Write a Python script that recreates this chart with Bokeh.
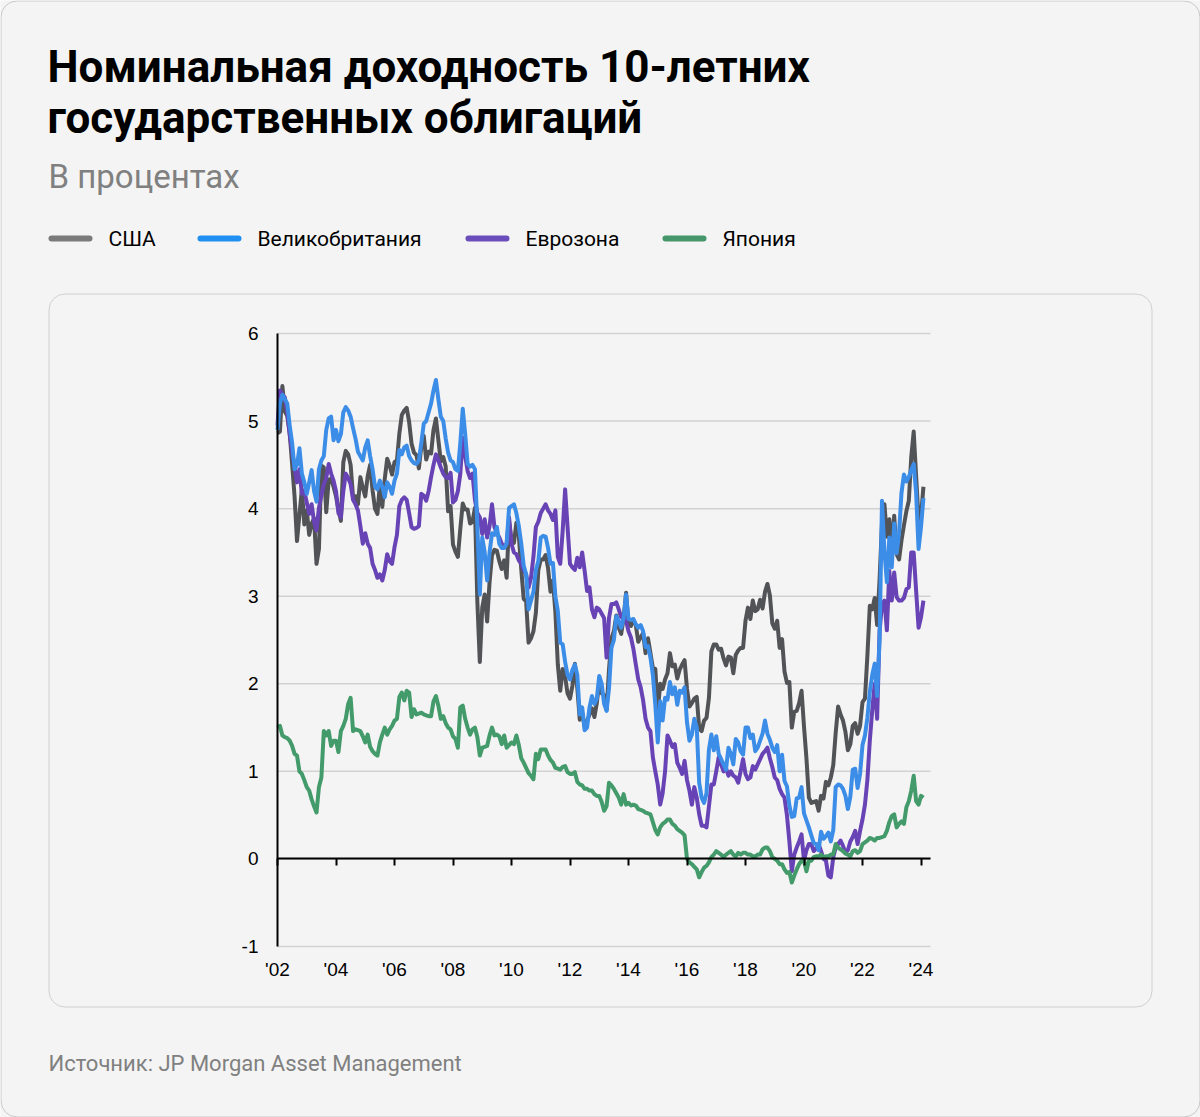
import numpy as np
from bokeh.plotting import figure
from bokeh.models import (Range1d, LinearAxis, FixedTicker, Label,
                          BoxAnnotation, ColumnDataSource)
from bokeh.embed import file_html
from bokeh.resources import INLINE

# ---------------- texts ----------------
TITLE_LINES = ["Номинальная доходность 10-летних", "государственных облигаций"]
SUBTITLE = "В процентах"
SOURCE_TEXT = "Источник: JP Morgan Asset Management"
SERIES = ["США", "Великобритания", "Еврозона", "Япония"]

# ---------------- axes ----------------
START_YEAR = 2002          # monthly values, Jan 2002 .. Feb 2024
X_TICKS = [2002, 2004, 2006, 2008, 2010, 2012, 2014, 2016, 2018, 2020, 2022, 2024]
X_TICK_LABELS = ["'02", "'04", "'06", "'08", "'10", "'12", "'14", "'16", "'18", "'20", "'22", "'24"]
Y_TICKS = [-1, 0, 1, 2, 3, 4, 5, 6]
Y_TICK_LABELS = ["-1", "0", "1", "2", "3", "4", "5", "6"]

# ---------------- data (10y yields, %) ----------------
US = [
    4.86, 4.88, 5.40, 5.11, 5.06, 4.86, 4.51, 4.14, 3.63, 3.93, 4.22, 3.82,  # 2002
    3.98, 3.70, 3.83, 3.89, 3.37, 3.54, 4.49, 4.47, 3.96, 4.33, 4.34, 4.25,  # 2003
    4.14, 3.99, 3.86, 4.53, 4.66, 4.62, 4.50, 4.13, 4.14, 4.05, 4.36, 4.24,  # 2004
    4.14, 4.37, 4.50, 4.21, 4.00, 3.94, 4.28, 4.02, 4.34, 4.57, 4.49, 4.39,  # 2005
    4.53, 4.55, 4.86, 5.07, 5.12, 5.15, 4.99, 4.74, 4.64, 4.61, 4.46, 4.71,  # 2006
    4.83, 4.56, 4.65, 4.63, 4.90, 5.03, 4.78, 4.54, 4.59, 4.48, 3.97, 4.03,  # 2007
    3.59, 3.51, 3.45, 3.77, 4.06, 3.99, 3.99, 3.83, 3.85, 4.01, 2.93, 2.25,  # 2008
    2.87, 3.02, 2.71, 3.16, 3.47, 3.53, 3.52, 3.40, 3.31, 3.41, 3.21, 3.85,  # 2009
    3.63, 3.61, 3.84, 3.69, 3.31, 2.97, 2.94, 2.47, 2.52, 2.60, 2.81, 3.30,  # 2010
    3.42, 3.42, 3.47, 3.32, 3.05, 3.18, 2.82, 2.22, 1.92, 2.17, 2.08, 1.89,  # 2011
    1.83, 1.98, 2.23, 1.95, 1.59, 1.67, 1.51, 1.57, 1.65, 1.72, 1.62, 1.78,  # 2012
    2.02, 1.89, 1.87, 1.70, 2.16, 2.52, 2.60, 2.78, 2.64, 2.57, 2.75, 3.04,  # 2013
    2.67, 2.66, 2.73, 2.67, 2.48, 2.53, 2.58, 2.35, 2.52, 2.35, 2.18, 2.17,  # 2014
    1.68, 2.00, 1.94, 2.05, 2.12, 2.35, 2.20, 2.22, 2.06, 2.16, 2.22, 2.27,  # 2015
    1.94, 1.74, 1.78, 1.83, 1.85, 1.49, 1.46, 1.58, 1.61, 1.84, 2.37, 2.45,  # 2016
    2.45, 2.39, 2.40, 2.29, 2.21, 2.31, 2.30, 2.12, 2.33, 2.38, 2.41, 2.41,  # 2017
    2.72, 2.87, 2.74, 2.95, 2.83, 2.85, 2.96, 2.86, 3.05, 3.14, 3.01, 2.69,  # 2018
    2.63, 2.72, 2.41, 2.51, 2.14, 2.01, 2.02, 1.50, 1.68, 1.69, 1.78, 1.92,  # 2019
    1.51, 1.15, 0.70, 0.64, 0.65, 0.66, 0.55, 0.72, 0.69, 0.88, 0.84, 0.93,  # 2020
    1.07, 1.44, 1.74, 1.65, 1.58, 1.45, 1.24, 1.31, 1.52, 1.55, 1.43, 1.52,  # 2021
    1.79, 1.83, 2.32, 2.89, 2.85, 2.98, 2.67, 3.19, 3.83, 4.05, 3.68, 3.88,  # 2022
    3.52, 3.92, 3.48, 3.42, 3.64, 3.81, 3.97, 4.09, 4.59, 4.88, 4.37, 3.88,  # 2023
    3.91, 4.25,                                                              # 2024
]
UK = [
    4.90, 5.20, 5.30, 5.25, 5.20, 4.95, 4.75, 4.45, 4.50, 4.69, 4.40, 4.30,  # 2002
    4.17, 4.30, 4.44, 4.20, 4.08, 4.45, 4.55, 4.60, 4.90, 5.03, 5.05, 4.78,  # 2003
    4.90, 4.77, 4.85, 5.10, 5.16, 5.12, 5.05, 4.92, 4.80, 4.65, 4.60, 4.55,  # 2004
    4.70, 4.78, 4.60, 4.45, 4.25, 4.22, 4.32, 4.25, 4.13, 4.30, 4.25, 4.17,  # 2005
    4.32, 4.40, 4.67, 4.62, 4.70, 4.72, 4.60, 4.55, 4.52, 4.51, 4.55, 4.75,  # 2006
    4.97, 5.00, 5.10, 5.20, 5.35, 5.47, 5.25, 5.05, 5.00, 4.80, 4.64, 4.55,  # 2007
    4.53, 4.45, 4.43, 4.75, 5.14, 4.85, 4.51, 4.48, 4.50, 4.45, 3.80, 3.02,  # 2008
    3.67, 3.50, 3.18, 3.50, 3.72, 3.70, 3.79, 3.60, 3.55, 3.55, 3.60, 4.01,  # 2009
    4.03, 4.05, 3.95, 3.80, 3.60, 3.35, 3.25, 2.85, 2.95, 3.05, 3.30, 3.40,  # 2010
    3.67, 3.69, 3.68, 3.55, 3.37, 3.38, 3.00, 2.83, 2.47, 2.45, 2.25, 2.10,  # 2011
    2.05, 2.16, 2.22, 2.10, 1.65, 1.73, 1.47, 1.50, 1.73, 1.86, 1.77, 1.83,  # 2012
    2.09, 2.00, 1.77, 1.69, 1.95, 2.41, 2.50, 2.77, 2.72, 2.64, 2.75, 3.02,  # 2013
    2.74, 2.73, 2.74, 2.68, 2.64, 2.67, 2.60, 2.42, 2.43, 2.30, 2.10, 1.76,  # 2014
    1.33, 1.80, 1.58, 1.84, 1.82, 2.02, 1.88, 1.96, 1.76, 1.92, 1.90, 1.96,  # 2015
    1.56, 1.35, 1.42, 1.60, 1.50, 0.87, 0.70, 0.64, 0.75, 1.25, 1.42, 1.24,  # 2016
    1.40, 1.20, 1.14, 1.08, 1.02, 1.27, 1.20, 1.08, 1.37, 1.33, 1.23, 1.19,  # 2017
    1.50, 1.50, 1.38, 1.42, 1.23, 1.27, 1.35, 1.43, 1.58, 1.43, 1.36, 1.27,  # 2018
    1.22, 1.30, 1.00, 1.19, 0.89, 0.83, 0.61, 0.48, 0.49, 0.69, 0.70, 0.82,  # 2019
    0.52, 0.44, 0.36, 0.27, 0.18, 0.17, 0.10, 0.31, 0.23, 0.26, 0.30, 0.20,  # 2020
    0.33, 0.82, 0.85, 0.84, 0.80, 0.72, 0.57, 0.71, 1.02, 1.03, 0.81, 0.97,  # 2021
    1.30, 1.41, 1.61, 1.91, 2.10, 2.23, 1.86, 2.50, 4.09, 3.51, 3.16, 3.67,  # 2022
    3.33, 3.83, 3.49, 3.72, 4.18, 4.39, 4.31, 4.36, 4.44, 4.51, 4.18, 3.54,  # 2023
    3.79, 4.12,                                                              # 2024
]
EZ = [
    4.95, 5.35, 5.30, 5.27, 5.10, 4.85, 4.65, 4.47, 4.30, 4.45, 4.17, 4.20,  # 2002
    4.07, 3.94, 4.05, 3.85, 3.75, 4.01, 4.15, 4.28, 4.35, 4.51, 4.40, 4.32,  # 2003
    4.20, 3.95, 3.90, 4.20, 4.40, 4.35, 4.28, 4.10, 4.05, 3.98, 3.80, 3.60,  # 2004
    3.72, 3.60, 3.55, 3.37, 3.30, 3.21, 3.25, 3.18, 3.30, 3.48, 3.40, 3.37,  # 2005
    3.56, 3.70, 4.03, 4.10, 4.13, 4.10, 3.95, 3.79, 3.77, 3.78, 3.80, 4.17,  # 2006
    4.15, 4.09, 4.20, 4.36, 4.50, 4.62, 4.55, 4.47, 4.40, 4.36, 4.35, 4.41,  # 2007
    4.07, 4.10, 4.20, 4.40, 4.81, 4.60, 4.43, 4.35, 4.40, 4.10, 3.95, 3.90,  # 2008
    3.71, 3.88, 3.67, 3.80, 4.05, 3.79, 3.72, 3.67, 3.60, 3.56, 3.60, 3.90,  # 2009
    3.60, 3.50, 3.48, 3.41, 3.37, 3.30, 3.25, 3.10, 3.21, 3.45, 3.79, 3.85,  # 2010
    3.95, 4.00, 4.05, 3.98, 3.94, 3.87, 3.98, 3.45, 3.37, 3.75, 4.22, 3.79,  # 2011
    3.37, 3.33, 3.30, 3.44, 3.33, 3.50, 3.29, 3.06, 3.10, 2.85, 2.76, 2.87,  # 2012
    2.85, 2.80, 2.75, 2.30, 2.75, 2.91, 2.91, 2.93, 2.85, 2.76, 2.75, 2.72,  # 2013
    2.60, 2.53, 2.40, 2.22, 2.05, 1.96, 1.81, 1.60, 1.50, 1.46, 1.16, 1.00,  # 2014
    0.85, 0.62, 0.75, 1.00, 1.41, 1.35, 1.28, 1.31, 1.10, 1.04, 0.97, 1.12,  # 2015
    0.90, 0.78, 0.62, 0.82, 0.70, 0.51, 0.38, 0.38, 0.36, 0.60, 0.85, 0.85,  # 2016
    1.00, 1.16, 1.08, 1.00, 1.04, 0.95, 1.00, 0.95, 0.93, 0.87, 1.00, 1.14,  # 2017
    0.97, 0.91, 0.93, 1.06, 1.02, 1.08, 1.14, 1.20, 1.23, 1.27, 1.15, 1.05,  # 2018
    0.93, 0.90, 0.80, 0.74, 0.70, 0.50, 0.20, -0.14, 0.05, 0.13, 0.20, 0.28, # 2019
    -0.02, 0.10, 0.17, 0.17, 0.09, 0.12, 0.17, 0.09, 0.00, -0.02, -0.19, -0.21,  # 2020
    0.02, 0.13, 0.17, 0.21, 0.15, 0.07, 0.10, 0.20, 0.25, 0.32, 0.17, 0.32,  # 2021
    0.45, 0.62, 0.90, 1.35, 1.70, 2.00, 1.60, 2.60, 2.91, 2.95, 2.61, 3.29,  # 2022
    2.95, 3.27, 2.99, 2.95, 2.95, 2.98, 3.08, 3.10, 3.50, 3.50, 3.06, 2.64,  # 2023
    2.76, 2.95,                                                              # 2024
]
JP = [
    1.50, 1.52, 1.41, 1.39, 1.38, 1.35, 1.29, 1.20, 1.18, 1.00, 0.97, 0.90,  # 2002
    0.82, 0.78, 0.68, 0.60, 0.53, 0.82, 0.93, 1.46, 1.41, 1.46, 1.29, 1.35,  # 2003
    1.35, 1.22, 1.46, 1.52, 1.60, 1.77, 1.84, 1.46, 1.48, 1.47, 1.46, 1.40,  # 2004
    1.33, 1.42, 1.28, 1.23, 1.20, 1.18, 1.33, 1.42, 1.50, 1.42, 1.48, 1.52,  # 2005
    1.58, 1.60, 1.85, 1.90, 1.81, 1.92, 1.90, 1.62, 1.71, 1.65, 1.66, 1.67,  # 2006
    1.65, 1.64, 1.63, 1.63, 1.80, 1.86, 1.75, 1.60, 1.63, 1.55, 1.50, 1.48,  # 2007
    1.40, 1.37, 1.27, 1.73, 1.75, 1.60, 1.50, 1.42, 1.48, 1.50, 1.39, 1.18,  # 2008
    1.27, 1.28, 1.29, 1.41, 1.50, 1.41, 1.42, 1.40, 1.31, 1.41, 1.27, 1.30,  # 2009
    1.33, 1.31, 1.41, 1.30, 1.15, 1.10, 1.04, 0.98, 0.95, 0.91, 1.20, 1.14,  # 2010
    1.25, 1.25, 1.25, 1.18, 1.13, 1.10, 1.04, 1.03, 1.02, 1.05, 1.06, 0.99,  # 2011
    0.97, 0.97, 0.99, 0.88, 0.85, 0.84, 0.80, 0.80, 0.78, 0.78, 0.74, 0.72,  # 2012
    0.72, 0.65, 0.55, 0.60, 0.87, 0.84, 0.80, 0.75, 0.70, 0.62, 0.74, 0.62,  # 2013
    0.64, 0.61, 0.62, 0.61, 0.57, 0.56, 0.55, 0.53, 0.52, 0.51, 0.42, 0.33,  # 2014
    0.28, 0.36, 0.40, 0.42, 0.45, 0.45, 0.40, 0.38, 0.34, 0.32, 0.30, 0.27,  # 2015
    0.00, -0.04, -0.06, -0.09, -0.12, -0.21, -0.15, -0.10, -0.08, -0.04, 0.02, 0.05,  # 2016
    0.09, 0.07, 0.05, 0.02, 0.05, 0.07, 0.09, 0.05, 0.03, 0.07, 0.05, 0.07,  # 2017
    0.07, 0.05, 0.05, 0.03, 0.03, 0.05, 0.05, 0.11, 0.13, 0.13, 0.09, 0.02,  # 2018
    0.00, -0.02, -0.06, -0.06, -0.12, -0.16, -0.15, -0.27, -0.19, -0.12, -0.06, -0.02,  # 2019
    -0.02, -0.14, -0.02, -0.02, 0.02, 0.03, 0.03, 0.05, 0.02, 0.03, 0.03, 0.05,  # 2020
    0.05, 0.17, 0.13, 0.11, 0.09, 0.06, 0.05, 0.03, 0.09, 0.10, 0.07, 0.09,  # 2021
    0.17, 0.19, 0.21, 0.24, 0.23, 0.21, 0.24, 0.24, 0.25, 0.26, 0.32, 0.42,  # 2022
    0.49, 0.51, 0.36, 0.40, 0.43, 0.40, 0.59, 0.66, 0.78, 0.95, 0.66, 0.62,  # 2023
    0.72, 0.70,                                                              # 2024
]

LINE_COLORS = {"us": "#525357", "uk": "#3b8de8", "ez": "#6843b5", "jp": "#439a6a"}
SWATCH_COLORS = ["#7a7a7a", "#1f8ff2", "#6a4cba", "#45966b"]

n = len(US)
x = START_YEAR + np.arange(n) / 12.0
src = ColumnDataSource(dict(x=x, us=US, uk=UK, ez=EZ, jp=JP))

# ---------------- layout (page pixels) ----------------
W, H = 1200, 1117
FL, FR, FT, FB = 277, 930, 333, 946      # chart area edges on the page
PX_PER_YEAR = 29.25
PX_PER_UNIT = (FB - FT) / (Y_TICKS[-1] - Y_TICKS[0])
BG = "#f4f4f4"
X_END = START_YEAR + (FR - FL) / PX_PER_YEAR

# the plot frame covers the whole canvas; ranges are chosen so that the
# chart area sits where it is in the reference
x_range = Range1d(START_YEAR - FL / PX_PER_YEAR, START_YEAR + (W - FL) / PX_PER_YEAR)
y_range = Range1d(Y_TICKS[0] - (H - FB) / PX_PER_UNIT, Y_TICKS[-1] + FT / PX_PER_UNIT)

p = figure(width=W, height=H, output_backend="svg", toolbar_location=None,
           x_range=x_range, y_range=y_range,
           x_axis_location=None, y_axis_location=None,
           min_border=0, min_border_left=0, min_border_right=0,
           min_border_top=0, min_border_bottom=0,
           background_fill_color=BG, border_fill_color=BG,
           outline_line_color=None)
p.xgrid.visible = False
p.ygrid.visible = False

TICK_FONT = "Liberation Sans"

# horizontal grid lines at the y ticks, limited to the chart area
p.segment(x0=[START_YEAR] * len(Y_TICKS), x1=[X_END] * len(Y_TICKS),
          y0=Y_TICKS, y1=Y_TICKS, line_color="#d2d2d2", line_width=1.5)

# y axis
ya = LinearAxis(ticker=FixedTicker(ticks=Y_TICKS), fixed_location=START_YEAR,
                bounds=(Y_TICKS[0], Y_TICKS[-1]),
                major_label_overrides={t: l for t, l in zip(Y_TICKS, Y_TICK_LABELS)},
                major_tick_out=0, major_tick_in=0, minor_tick_line_color=None,
                axis_line_color="#000000", axis_line_width=2,
                major_label_text_font=TICK_FONT, major_label_text_font_size="19px",
                major_label_text_color="#000000", major_label_standoff=19)
p.add_layout(ya, "left")

# lines (drawing order)
for col in ["us", "ez", "uk", "jp"]:
    p.line(x="x", y=col, source=src, line_color=LINE_COLORS[col],
           line_width=4, line_join="round")

# x axis on the zero line, labels well below at the bottom of the chart
xa = LinearAxis(ticker=FixedTicker(ticks=X_TICKS), fixed_location=0,
                bounds=(START_YEAR, X_END),
                major_label_overrides={t: l for t, l in zip(X_TICKS, X_TICK_LABELS)},
                axis_line_color="#000000", axis_line_width=2,
                major_tick_line_color="#000000", major_tick_line_width=2,
                major_tick_out=7, major_tick_in=0, minor_tick_line_color=None,
                major_label_text_font=TICK_FONT, major_label_text_font_size="19px",
                major_label_text_color="#000000", major_label_standoff=93)
p.add_layout(xa, "below")

# ---------------- helpers for page-positioned decorations ----------------
def sx(px):
    return px

def sy(py):
    return H - py

def text(t, px, py, size, color, style="normal", font="Roboto"):
    p.add_layout(Label(x=sx(px), y=sy(py), x_units="screen", y_units="screen",
                       text=t, text_font=font, text_font_size=f"{size}px",
                       text_color=color, text_font_style=style,
                       text_align="left", text_baseline="middle"))

def box(l, r, t, b, fill=None, line=None, radius=0, lw=1):
    p.add_layout(BoxAnnotation(left=sx(l), right=sx(r), top=sy(t), bottom=sy(b),
                               left_units="screen", right_units="screen",
                               top_units="screen", bottom_units="screen",
                               fill_color=fill, fill_alpha=1.0 if fill else 0,
                               line_color=line, line_alpha=1.0, line_width=lw,
                               border_radius=radius, level="overlay"))

# cards
box(0.5, W - 0.5, 0.5, H - 0.5, line="#c8c8c8", radius=16)
box(48.5, 1151.5, 293.5, 1006.5, line="#d0d0d0", radius=16)

# titles
text(TITLE_LINES[0], 47, 66, 44, "#000000", style="bold")
text(TITLE_LINES[1], 47, 117, 44, "#000000", style="bold")
text(SUBTITLE, 48, 176, 33, "#808080")

# legend
LEGEND_X = [48, 197, 465, 662]
for name, c, lx in zip(SERIES, SWATCH_COLORS, LEGEND_X):
    box(lx, lx + 44, 235, 241, fill=c, radius=3)
    text(name, lx + 60, 238, 21, "#000000")

# source
text(SOURCE_TEXT, 48, 1063, 22, "#808080")

open("out.html", "w").write(file_html(p, INLINE))
